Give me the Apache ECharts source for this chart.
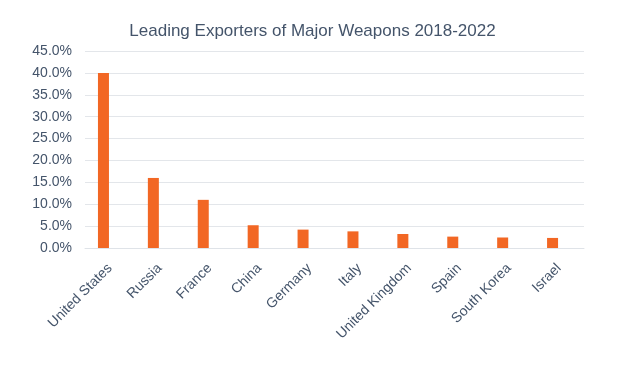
<!DOCTYPE html>
<html><head><meta charset="utf-8">
<script src="https://cdn.jsdelivr.net/npm/echarts@6/dist/echarts.min.js"></script>
<style>html,body{margin:0;padding:0;background:#fff}#c{width:625px;height:378px}</style>
</head><body><div id="c"></div>
<script>
const categories = ["United States","Russia","France","China","Germany","Italy","United Kingdom","Spain","South Korea","Israel"];
const shares = [40.0, 16.0, 11.0, 5.2, 4.2, 3.8, 3.2, 2.6, 2.4, 2.3];
const emptySeries = categories.map(() => null);
const chart = echarts.init(document.getElementById('c'), null, {renderer:'canvas'});
chart.setOption({
  animation:false,
  title:{text:'Leading Exporters of Major Weapons 2018-2022', left:'center', top:18,
    textStyle:{fontFamily:'Liberation Sans, Arial', fontSize:17, fontWeight:'normal', color:'#44546a'}},
  grid:{left:85, right:41, top:51, bottom:130},
  xAxis:{type:'category', data:categories,
    axisLine:{show:true, lineStyle:{color:'#dfe3e8'}}, axisTick:{show:false},
    axisLabel:{rotate:45, interval:0, margin:18, fontFamily:'Liberation Sans, Arial', fontSize:14, color:'#44546a'}},
  yAxis:{type:'value', min:0, max:45, interval:5,
    axisLine:{show:false}, axisTick:{show:false},
    splitLine:{lineStyle:{color:'#e3e6ea'}},
    axisLabel:{formatter:v=>v.toFixed(1)+'%', margin:13, fontFamily:'Liberation Sans, Arial', fontSize:14, color:'#44546a'}},
  series:[
    {type:'bar', data:shares, barWidth:11, barGap:'18%', itemStyle:{color:'#f26724'}},
    {type:'bar', data:emptySeries, barWidth:11, silent:true}
  ]
});
</script></body></html>
